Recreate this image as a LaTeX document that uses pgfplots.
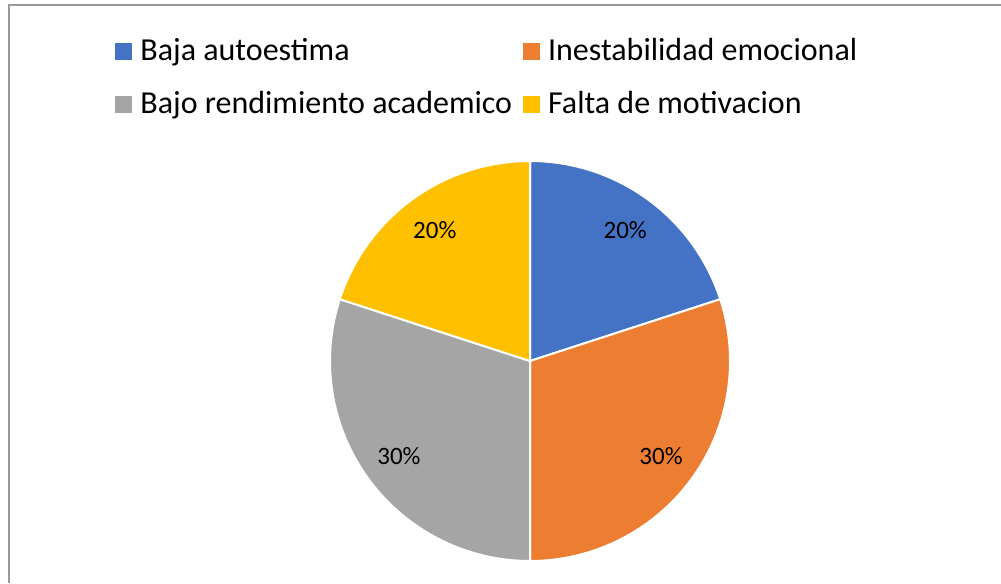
\documentclass[border=0pt]{standalone}
\usepackage{fontspec}
\setmainfont{Carlito}
\usepackage{pgfplots}
\pgfplotsset{compat=1.18}
\definecolor{cBlue}{HTML}{4472C4}
\definecolor{cOrange}{HTML}{ED7D31}
\definecolor{cGray}{HTML}{A5A5A5}
\definecolor{cYellow}{HTML}{FFC000}
\definecolor{cFrame}{HTML}{9A9A9A}

% one axis unit = one pixel of the reference = 0.5pt
\newcommand\R{100pt}% pie radius (200 px)
\newcommand\lblfont{\fontsize{12.5}{14}\selectfont}

% \slice{share before}{share}{colour}, shares in percent, clockwise from top
\newcommand\slice[3]{%
  \filldraw[fill=#3, draw=white, line width=1pt]
    (axis cs:530,222) -- ++({90-3.6*#1}:\R)
    arc[start angle={90-3.6*#1}, delta angle={-3.6*#2}, radius=\R] -- cycle;
  \path (axis cs:530,222) ++({90-3.6*(#1+#2/2)}:0.81*\R)
    node[font=\lblfont, inner sep=0pt] {#2\%};
}

\pgfplotsset{
  sq/.style={legend image code/.code={
    \fill[##1] (0pt,-4.25pt) rectangle (8.5pt,4.25pt);}},
}

\begin{document}
\begin{tikzpicture}
\begin{axis}[
  scale only axis,
  width=500.5pt, height=291.5pt,
  xmin=0, xmax=1001, ymin=0, ymax=583,
  hide axis,
  legend columns=2,
  legend cell align=left,
  legend style={draw=none, fill=none, inner sep=0pt,
    at={(axis cs:115,545)}, anchor=north west,
    font=\fontsize{16}{19}\selectfont,
    nodes={inner sep=0pt},
    row sep=14pt,
    /tikz/every odd column/.append style={column sep=4pt},
    /tikz/every even column/.append style={column sep=5.5pt}},
]
% chart frame (left and top edge visible)
\draw[cFrame, line width=1pt] (axis cs:9,0) -- (axis cs:9,578) -- (axis cs:1001,578);

\addlegendimage{sq, fill=cBlue, draw=none}
\addlegendentry{Baja autoestima}
\addlegendimage{sq, fill=cOrange, draw=none}
\addlegendentry{Inestabilidad emocional}
\addlegendimage{sq, fill=cGray, draw=none}
\addlegendentry{Bajo rendimiento academico}
\addlegendimage{sq, fill=cYellow, draw=none}
\addlegendentry{Falta de motivacion}

\slice{0}{20}{cBlue}
\slice{20}{30}{cOrange}
\slice{50}{30}{cGray}
\slice{80}{20}{cYellow}
\end{axis}
\pgfresetboundingbox
\useasboundingbox (current axis.south west) rectangle (current axis.north east);
\end{tikzpicture}
\end{document}
